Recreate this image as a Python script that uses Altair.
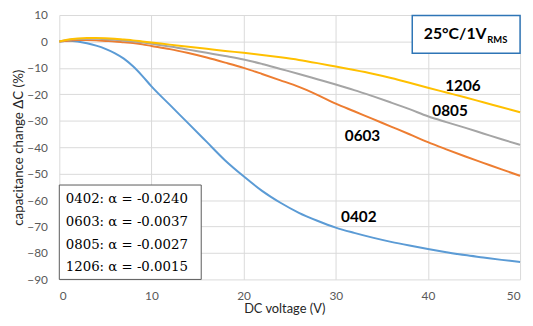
import altair as alt
import pandas as pd

# ---- data ----
voltage = [0, 1, 2, 3, 4, 5, 6, 7, 8, 9, 10, 12, 14, 16, 18, 20, 22, 24, 26, 28,
           30, 32, 34, 36, 38, 40, 42, 44, 46, 48, 50]
c0402 = [0, 0.3, 0.0, -0.7, -1.6, -2.8, -4.4, -6.5, -9.4, -13.0, -17.0, -24.0, -31.0,
         -38.0, -45.0, -51.0, -56.5, -61.0, -64.8, -67.8, -70.4, -72.4, -74.2, -75.8,
         -77.2, -78.5, -79.7, -80.8, -81.7, -82.6, -83.4]
c0603 = [0, 0.3, 0.5, 0.5, 0.4, 0.2, 0.0, -0.3, -0.6, -1.1, -1.7, -2.9, -4.4, -6.1,
         -8.0, -10.0, -12.3, -14.7, -17.2, -20.2, -23.5, -26.4, -29.3, -32.2, -35.1,
         -38.1, -40.8, -43.4, -45.9, -48.4, -50.8]
c0805 = [0, 0.6, 0.9, 1.0, 1.0, 0.8, 0.6, 0.3, 0.0, -0.4, -0.9, -1.9, -3.1, -4.3,
         -5.5, -6.8, -8.5, -10.4, -12.3, -14.3, -16.3, -18.4, -20.7, -23.1, -25.6,
         -28.3, -30.5, -32.6, -34.8, -37.0, -39.1]
c1206 = [0, 0.7, 1.1, 1.3, 1.3, 1.2, 1.0, 0.7, 0.4, 0.0, -0.4, -1.2, -2.0, -2.8,
         -3.6, -4.3, -5.1, -6.0, -7.0, -8.2, -9.5, -10.8, -12.2, -13.8, -15.6,
         -17.5, -19.3, -21.1, -23.0, -24.9, -26.8]

series_names = ["0402", "0603", "0805", "1206"]
series_colors = ["#5B9BD5", "#ED7D31", "#A5A5A5", "#FFC000"]

label_x = [32.5, 32.9, 42.4, 43.8]
label_y = [-66.3, -35.6, -26.3, -17.0]

legend_lines = ["0402: α = -0.0240", "0603: α = -0.0037",
                "0805: α = -0.0027", "1206: α = -0.0015"]
legend_y = [-59.6, -68.4, -77.1, -85.4]

x_ticks = [0, 10, 20, 30, 40, 50]
y_ticks = [10, 0, -10, -20, -30, -40, -50, -60, -70, -80, -90]

# ---- tables ----
rows = []
for name, vals in zip(series_names, [c0402, c0603, c0805, c1206]):
    for v, c in zip(voltage, vals):
        rows.append({"V": v, "dC": c, "size": name})
df = pd.DataFrame(rows)

labels_df = pd.DataFrame({"V": label_x, "dC": label_y, "text": series_names})
legend_df = pd.DataFrame({"V": [0.7] * 4, "dC": legend_y, "text": legend_lines})
inset_df = pd.DataFrame({"x1": [0], "x2": [15.4], "y1": [-90], "y2": [-54.3]})
title_box_df = pd.DataFrame({"x1": [38.3], "x2": [50], "y1": [-4.5], "y2": [9.8]})
title_df = pd.DataFrame({"V": [39.55], "dC": [2.7], "text": ["25°C/1V"]})
sub_df = pd.DataFrame({"V": [46.45], "dC": [0.6], "text": ["RMS"]})

xscale = alt.Scale(domain=[0, 50], nice=False)
yscale = alt.Scale(domain=[-90, 10], nice=False)

x_enc = alt.X("V:Q", scale=xscale, axis=alt.Axis(
    values=x_ticks, tickCount=6, title="DC voltage (V)", titlePadding=2,
    titleFontSize=13, titleX=228))
y_enc = alt.Y("dC:Q", scale=yscale, axis=alt.Axis(
    values=y_ticks, tickCount=11, labelOverlap=False,
    title="capacitance change ΔC (%)", titlePadding=1, titleFontSize=13.5))

lines = alt.Chart(df).mark_line(strokeWidth=2, interpolate="monotone").encode(
    x=x_enc, y=y_enc,
    color=alt.Color("size:N", scale=alt.Scale(domain=series_names, range=series_colors),
                    legend=None),
    detail="size:N",
)

line_labels = alt.Chart(labels_df).mark_text(
    font="Lato", fontWeight="bold", fontSize=15.5, color="#000000",
    align="center", baseline="middle").encode(x="V:Q", y="dC:Q", text="text:N")

inset = alt.Chart(inset_df).mark_rect(
    fill="white", stroke="#595959", strokeWidth=1).encode(
    x="x1:Q", x2="x2:Q", y="y1:Q", y2="y2:Q")

legend_text = alt.Chart(legend_df).mark_text(
    font="DejaVu Serif", fontSize=13.5, color="#000000",
    align="left", baseline="middle").encode(x="V:Q", y="dC:Q", text="text:N")

title_box = alt.Chart(title_box_df).mark_rect(
    fill="white", stroke="#2E75B6", strokeWidth=1.5, clip=False).encode(
    x="x1:Q", x2="x2:Q", y="y1:Q", y2="y2:Q")

title_text = alt.Chart(title_df).mark_text(
    font="Lato", fontWeight="bold", fontSize=16, color="#000000",
    align="left", baseline="middle").encode(x="V:Q", y="dC:Q", text="text:N")

sub_text = alt.Chart(sub_df).mark_text(
    font="Lato", fontWeight="bold", fontSize=9.5, color="#000000",
    align="left", baseline="middle").encode(x="V:Q", y="dC:Q", text="text:N")

chart = alt.layer(
    lines, line_labels, inset, legend_text, title_box, title_text, sub_text
).properties(
    width=467, height=268,
    autosize=alt.AutoSizeParams(type="none"),
    padding={"left": 52, "top": 5, "right": 5, "bottom": 37},
).configure_view(stroke=None).configure_axis(
    domain=False, ticks=False,
    grid=True, gridColor="#D9D9D9", gridWidth=1,
    labelFont="Lato", labelFontSize=12, labelColor="#595959",
    titleFont="Lato", titleColor="#262626", titleFontWeight="normal",
).configure_axisY(labelPadding=12).configure_axisX(labelPadding=11)

chart.save("out.html", embed_options={"renderer": "svg", "actions": False})
